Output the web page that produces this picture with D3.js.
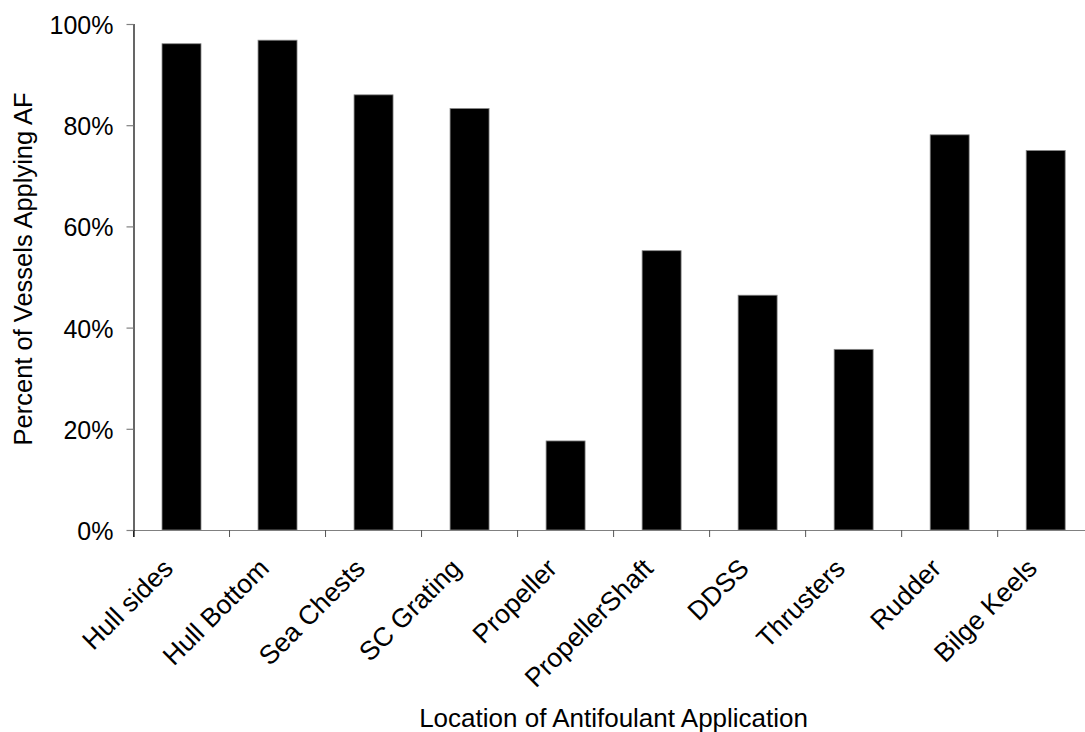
<!DOCTYPE html>
<html>
<head>
<meta charset="utf-8">
<script src="https://cdn.jsdelivr.net/npm/d3@7/dist/d3.min.js"></script>
<style>
  html, body { margin: 0; padding: 0; background: #fff; }
  svg { display: block; font-family: "Liberation Sans", Arial, sans-serif; }
</style>
</head>
<body>
<svg id="chart" width="1085" height="732"></svg>
<script>
const categories = ["Hull sides", "Hull Bottom", "Sea Chests", "SC Grating", "Propeller",
  "PropellerShaft", "DDSS", "Thrusters", "Rudder", "Bilge Keels"];
const values = [0.961, 0.968, 0.860, 0.833, 0.176, 0.552, 0.464, 0.357, 0.781, 0.750];
const yTicks = [0, 0.2, 0.4, 0.6, 0.8, 1.0];
const xTitle = "Location of Antifoulant Application";
const yTitle = "Percent of Vessels Applying AF";

const svg = d3.select("#chart");
const pLeft = 133.5, pRight = 1093.7, pTop = 24, pBottom = 530;

const x = d3.scaleBand().domain(categories).range([pLeft, pRight]).padding(0);
const y = d3.scaleLinear().domain([0, 1]).range([pBottom, pTop]);
const barW = x.bandwidth() * 0.406;

// bars
svg.append("g").selectAll("rect").data(categories).join("rect")
  .attr("x", d => x(d) + x.bandwidth() / 2 - barW / 2)
  .attr("y", (d, i) => y(values[i]))
  .attr("width", barW)
  .attr("height", (d, i) => y(0) - y(values[i]))
  .attr("fill", "#000")
  .attr("stroke", "#888")
  .attr("stroke-width", 0.8);

// x axis
const xAxis = d3.axisBottom(x).tickSize(7).tickFormat("");
const gx = svg.append("g").attr("transform", `translate(0,${pBottom})`).call(xAxis);
gx.select(".domain").attr("stroke", "#808080").attr("stroke-width", 1.2)
  .attr("d", `M${pLeft},0.5H${pRight}`);
gx.selectAll(".tick").remove();
const bounds = categories.map(d => x(d));
gx.selectAll("line.bt").data(bounds).join("line")
  .attr("class", "bt")
  .attr("x1", d => d).attr("x2", d => d)
  .attr("y1", 0).attr("y2", 7)
  .attr("stroke", "#555").attr("stroke-width", 1);

// category labels
svg.append("g").selectAll("text").data(categories).join("text")
  .attr("transform", d => `translate(${x(d) + x.bandwidth() / 2 - 7},${pBottom + 40}) rotate(-45)`)
  .attr("text-anchor", "end")
  .attr("font-size", 26.5)
  .attr("fill", "#000")
  .text(d => d);

// y axis
const yAxis = d3.axisLeft(y).tickValues(yTicks).tickSize(7).tickFormat(d3.format(".0%"));
const gy = svg.append("g").attr("transform", `translate(${pLeft},0)`).call(yAxis);
gy.select(".domain").attr("stroke", "#000").attr("stroke-width", 1.2)
  .attr("d", `M0.5,${pTop}V${pBottom + 7}`);
gy.selectAll(".tick line").attr("stroke", "#808080").attr("stroke-width", 1.2);
gy.selectAll(".tick text").attr("font-size", 25).attr("font-family", "Liberation Sans, Arial, sans-serif")
  .attr("fill", "#000").attr("x", -20).attr("dy", "0.38em");

// titles
svg.append("text")
  .attr("x", (pLeft + pRight) / 2).attr("y", 727)
  .attr("text-anchor", "middle")
  .attr("font-size", 26)
  .attr("fill", "#000")
  .text(xTitle);

svg.append("text")
  .attr("transform", `translate(32,269) rotate(-90)`)
  .attr("text-anchor", "middle")
  .attr("font-size", 25.5)
  .attr("fill", "#000")
  .text(yTitle);
</script>
</body>
</html>
